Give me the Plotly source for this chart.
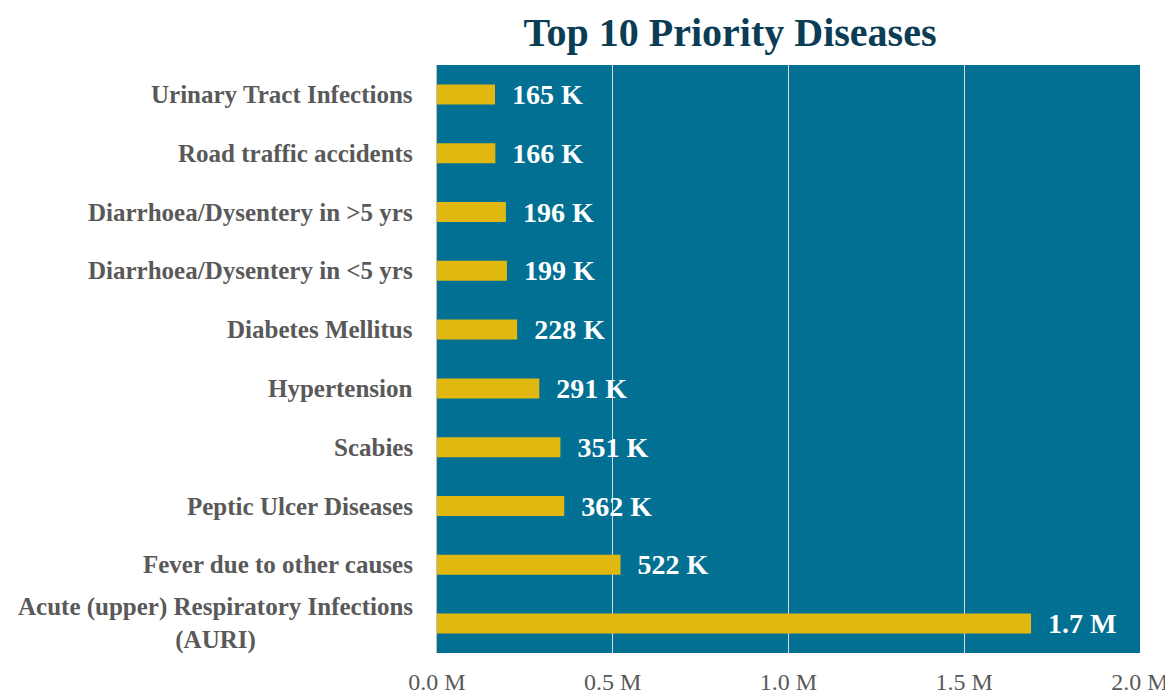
import plotly.graph_objects as go

categories = [
    "Acute (upper) Respiratory Infections<br>(AURI)",
    "Fever due to other causes",
    "Peptic Ulcer Diseases",
    "Scabies",
    "Hypertension",
    "Diabetes Mellitus",
    "Diarrhoea/Dysentery in <5 yrs",
    "Diarrhoea/Dysentery in >5 yrs",
    "Road traffic accidents",
    "Urinary Tract Infections",
]
values = [1690000, 522000, 362000, 351000, 291000, 228000, 199000, 196000, 166000, 165000]
value_labels = ["1.7 M", "522 K", "362 K", "351 K", "291 K", "228 K", "199 K", "196 K", "166 K", "165 K"]
tick_vals = [0, 500000, 1000000, 1500000, 2000000]
tick_text = ["0.0 M", "0.5 M", "1.0 M", "1.5 M", "2.0 M"]

SERIF = "Palatino Linotype, Book Antiqua, Palatino, Liberation Serif, serif"
ypos = list(range(len(categories)))

# page body has an 8px default margin, so the figure is sized to fit the window
W, H = 1165, 686

fig = go.Figure(go.Bar(
    x=values, y=ypos, orientation="h",
    marker=dict(color="#E1B80F", line=dict(width=0)),
    text=["\u00a0\u00a0" + t for t in value_labels],
    textposition="outside",
    constraintext="none",
    textfont=dict(family=SERIF, size=28, color="white", weight="bold"),
    cliponaxis=False,
    width=0.34,
    hoverinfo="skip",
))

for yp, cat in zip(ypos, categories):
    fig.add_annotation(
        x=0, xref="paper", xshift=-22, y=yp, yref="y",
        text="<b>" + cat + "</b>", showarrow=False,
        xanchor="right", yanchor="middle", align="center",
        font=dict(family=SERIF, size=25, color="#595959"),
    )

fig.update_layout(
    width=W, height=H,
    margin=dict(l=429, r=33, t=57, b=41, autoexpand=False),
    paper_bgcolor="white",
    plot_bgcolor="#027093",
    showlegend=False,
    title=dict(
        text="<b>Top 10 Priority Diseases</b>",
        x=(730 - 8) / W, xanchor="center", y=1 - 24 / H, yanchor="middle",
        font=dict(family=SERIF, size=40, color="#0B3D55"),
    ),
    xaxis=dict(
        range=[0, 2000000], tickvals=tick_vals, ticktext=tick_text,
        showgrid=True, gridcolor="#D9D9D9", gridwidth=1,
        zeroline=False, showline=False, automargin=False,
        tickfont=dict(family=SERIF, size=24, color="#595959"),
        ticklabelstandoff=12,
    ),
    yaxis=dict(
        range=[-0.5, 9.5], showticklabels=False, showgrid=False, automargin=False,
        zeroline=False, showline=True, linecolor="#BFBFBF", linewidth=1,
    ),
)

fig.write_html("out.html")
